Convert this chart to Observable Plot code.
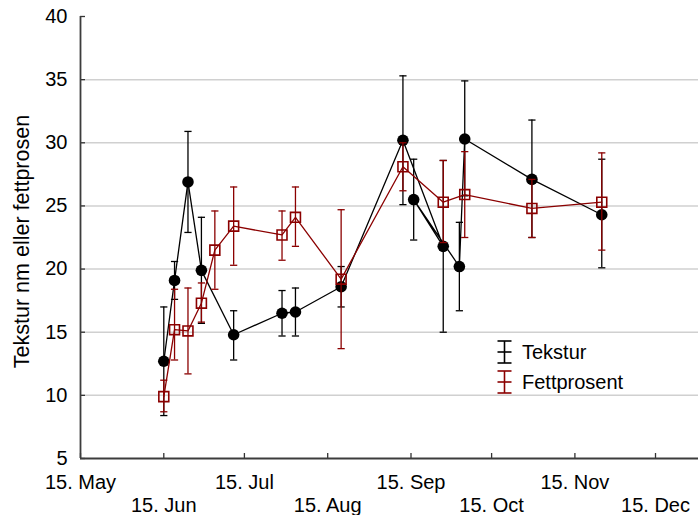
<!DOCTYPE html>
<html><head><meta charset="utf-8">
<script src="https://cdn.jsdelivr.net/npm/d3@7"></script>
<script src="https://cdn.jsdelivr.net/npm/@observablehq/plot@0.6"></script>
<style>
body{margin:0;background:#fff;font-family:"Liberation Sans",Arial,sans-serif;}
#wrap{position:relative;width:698px;height:515px;}
.lg{position:absolute;display:flex;align-items:center;font-size:20px;line-height:24px;color:#000;}
.lg svg{margin-right:10px;}
</style></head><body><div id="wrap"></div>
<script>
// Tekstur (black) – in drawing order
const texDates = ["2001-06-15","2001-06-19","2001-06-24","2001-06-29","2001-07-11","2001-07-29","2001-08-03","2001-08-20","2001-09-12","2001-09-27","2001-09-16","2001-10-03","2001-10-05","2001-10-30","2001-11-25"];
const texMean = [12.7,19.1,26.9,19.9,14.8,16.5,16.6,18.6,30.2,21.8,25.5,20.2,30.3,27.1,24.3];
const texLo   = [8.4,17.6,22.9,15.7,12.8,14.7,14.7,17.0,25.1,15.0,22.3,16.7,25.8,22.5,20.1];
const texHi   = [17.0,20.6,30.9,24.1,16.7,18.3,18.5,20.2,35.3,28.6,28.7,23.7,34.9,31.8,28.7];
// Fettprosent (dark red)
const fatDates = ["2001-06-15","2001-06-19","2001-06-24","2001-06-29","2001-07-04","2001-07-11","2001-07-29","2001-08-03","2001-08-20","2001-09-12","2001-09-27","2001-10-05","2001-10-30","2001-11-25"];
const fatMean = [9.9,15.2,15.1,17.3,21.5,23.4,22.7,24.1,19.2,28.1,25.3,25.9,24.8,25.3];
const fatLo   = [8.7,12.8,11.7,15.8,18.4,20.3,20.7,21.8,13.7,26.2,22.1,22.5,22.5,21.5];
const fatHi   = [11.2,18.4,18.5,18.9,24.6,26.5,24.6,26.5,24.7,30.0,28.6,29.3,27.1,29.2];
// axes
const xTickDates = ["2001-05-15","2001-06-15","2001-07-15","2001-08-15","2001-09-15","2001-10-15","2001-11-15","2001-12-15"];
const xDomain = ["2001-05-15","2001-12-31"];
const yTicks = [5,10,15,20,25,30,35,40];
const yGrid = [10,15,20,25,30,35];
const yLabel = "Tekstur nm eller fettprosen";
const seriesNames = ["Tekstur","Fettprosent"];
const colors = ["#000000","#8b0000"];

const parse = d3.utcParse("%Y-%m-%d");
const tex = texDates.map((d,i)=>({date:parse(d),mean:texMean[i],lo:texLo[i],hi:texHi[i]}));
const fat = fatDates.map((d,i)=>({date:parse(d),mean:fatMean[i],lo:fatLo[i],hi:fatHi[i]}));
const xTicks = xTickDates.map(parse);
const row1 = xTicks.filter((d,i)=>i%2===0);
const row2 = xTicks.filter((d,i)=>i%2===1);
const fmt = d => "15. " + d3.utcFormat("%b")(d);

const W = 698, H = 515, mL = 80, mR = 0, mT = 16, mB = 57;
const fw = W - mL - mR, fh = H - mT - mB;
const cap = {draw(ctx, size){const w = Math.sqrt(size/Math.PI); ctx.moveTo(-w,0); ctx.lineTo(w,0);}};

function series(data, color, symbol, dotOpts){
  return [
    Plot.ruleX(data, {x:"date", y1:"lo", y2:"hi", stroke:color, strokeWidth:1.3}),
    Plot.dot(data, {x:"date", y:"lo", symbol:cap, r:3.6, stroke:color, strokeWidth:1.3, fill:"none"}),
    Plot.dot(data, {x:"date", y:"hi", symbol:cap, r:3.6, stroke:color, strokeWidth:1.3, fill:"none"}),
    Plot.line(data, {x:"date", y:"mean", stroke:color, strokeWidth:1.3, curve:"linear"}),
    Plot.dot(data, {x:"date", y:"mean", symbol, ...dotOpts})
  ];
}

const chart = Plot.plot({
  width: W, height: H, marginLeft: mL, marginRight: mR, marginTop: mT, marginBottom: mB,
  style: {fontFamily:"'Liberation Sans', Arial, sans-serif", fontSize:"20px", background:"white", color:"#000"},
  x: {type:"utc", domain: xDomain.map(parse)},
  y: {domain:[5,40]},
  marks: [
    Plot.gridY(yGrid, {stroke:"#d0d0d0", strokeOpacity:1, strokeWidth:1.5}),
    Plot.tickY(yTicks, {y:d=>d, insetRight: fw-5, stroke:"#333", strokeWidth:1.3}),
    Plot.tickX(xTicks, {x:d=>d, insetTop: fh-5, stroke:"#333", strokeWidth:1.3}),
    Plot.ruleY([5], {stroke:"#3c3c3c", strokeWidth:1.8}),
    Plot.ruleX([parse(xDomain[0])], {stroke:"#3c3c3c", strokeWidth:1.8}),
    Plot.axisY(yTicks, {tickSize:0, tickPadding:13, label:null, fontSize:20}),
    Plot.axisX(row1, {tickSize:0, tickPadding:16, tickFormat:fmt, label:null, fontSize:20}),
    Plot.axisX(row2, {tickSize:0, tickPadding:39, tickFormat:fmt, label:null, fontSize:20}),
    Plot.text([yLabel], {text:d=>d, frameAnchor:"left", rotate:-90, dx:-58, dy:4, fontSize:21.5, textAnchor:"middle", lineAnchor:"middle"}),
    ...series(tex, colors[0], "circle", {r:5.8, fill:colors[0], stroke:"none"}),
    ...series(fat, colors[1], "square", {r:5.6, fill:"none", stroke:colors[1], strokeWidth:1.6})
  ]
});
const wrap = document.getElementById("wrap");
wrap.appendChild(chart);

seriesNames.forEach((name,i)=>{
  const div = document.createElement("div");
  div.className = "lg";
  div.style.left = "497px";
  div.style.top = (340 + i*30) + "px";
  const c = colors[i];
  div.innerHTML = `<svg width="15" height="24" viewBox="0 0 15 24"><g stroke="${c}" stroke-width="1.6" fill="none"><line x1="7.5" y1="1" x2="7.5" y2="23"/><line x1="0.5" y1="1" x2="14.5" y2="1"/><line x1="0.5" y1="12" x2="14.5" y2="12"/><line x1="0.5" y1="23" x2="14.5" y2="23"/></g></svg><span>${name}</span>`;
  wrap.appendChild(div);
});
</script></body></html>
